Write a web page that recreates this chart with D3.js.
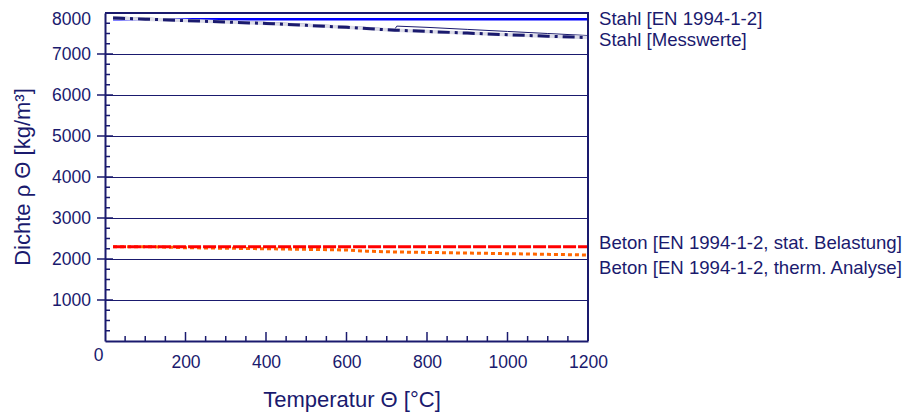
<!DOCTYPE html>
<html>
<head>
<meta charset="utf-8">
<script src="https://cdn.jsdelivr.net/npm/d3@7/dist/d3.min.js"></script>
<style>
  body { margin: 0; background: #fff; }
  svg { display: block; font-family: "Liberation Sans", Arial, sans-serif; }
</style>
</head>
<body>
<div id="chart"></div>
<script>
// 数据
const xTicks = [0, 200, 400, 600, 800, 1000, 1200]
const yTicks = [1000, 2000, 3000, 4000, 5000, 6000, 7000, 8000]

// Stahl [EN 1994-1-2]
const steelEnTemp = [20, 1200]
const steelEnRho = [7850, 7850]
// Stahl [Messwerte] (zwei Messreihen)
const steelMeasTemp = [20, 100, 200, 300, 400, 500, 600, 700, 720, 725, 800, 900, 1000, 1100, 1200]
const steelMeasRhoA = [7905, 7875, 7840, 7805, 7770, 7725, 7675, 7615, 7605, 7680, 7650, 7600, 7550, 7500, 7450]
const steelMeasRhoB = [7880, 7850, 7815, 7780, 7745, 7700, 7650, 7590, 7580, 7580, 7550, 7510, 7470, 7435, 7400]
// Beton [EN 1994-1-2, stat. Belastung]
const concStatTemp = [20, 1200]
const concStatRho = [2300, 2300]
// Beton [EN 1994-1-2, therm. Analyse]
const concThermTemp = [20, 115, 200, 400, 600, 650, 700, 800, 1000, 1200]
const concThermRho = [2300, 2300, 2275, 2250, 2220, 2190, 2175, 2160, 2130, 2098]

const config = {
  width: 909,
  height: 412,
  margin: { top: 13, right: 321, bottom: 71, left: 105 },
  navy: '#1a1a6e',
  textColor: '#1a1a6e'
}

const { width, height, margin, navy, textColor } = config
const innerW = width - margin.left - margin.right
const innerH = height - margin.top - margin.bottom

const svg = d3.select('#chart')
  .append('svg')
  .attr('width', width)
  .attr('height', height)

const g = svg.append('g')
  .attr('transform', `translate(${margin.left}, ${margin.top})`)

const x = d3.scaleLinear().domain([0, 1200]).range([0, innerW])
const y = d3.scaleLinear().domain([0, 8000]).range([innerH, 0])

// 网格线
g.append('g')
  .selectAll('line')
  .data(yTicks.slice(0, -1))
  .join('line')
  .attr('x1', 0)
  .attr('x2', innerW)
  .attr('y1', d => Math.round(y(d)) + 0.5)
  .attr('y2', d => Math.round(y(d)) + 0.5)
  .attr('stroke', navy)
  .attr('stroke-width', 1)

// 小刻度
const xMinor = d3.range(50, 1200, 50)
const yMinor = d3.range(250, 8000, 250)
g.append('g')
  .selectAll('line')
  .data(xMinor)
  .join('line')
  .attr('x1', d => x(d))
  .attr('x2', d => x(d))
  .attr('y1', innerH)
  .attr('y2', d => innerH - (d % 200 === 0 ? 9 : 5))
  .attr('stroke', navy)
  .attr('stroke-width', 1.5)
g.append('g')
  .selectAll('line')
  .data(yMinor)
  .join('line')
  .attr('x1', d => (d % 1000 === 0 ? -8 : 0))
  .attr('x2', d => (d % 1000 === 0 ? 8 : 5))
  .attr('y1', d => y(d))
  .attr('y2', d => y(d))
  .attr('stroke', navy)
  .attr('stroke-width', 1.5)

// 曲线
const line = d3.line()
  .x(d => x(d[0]))
  .y(d => y(d[1]))
const pairs = (t, v) => t.map((d, i) => [d, v[i]])

const curves = g.append('g')
curves.append('path')
  .attr('d', line(pairs(steelEnTemp, steelEnRho)))
  .attr('fill', 'none')
  .attr('stroke', '#0000ff')
  .attr('stroke-width', 2.5)
curves.append('path')
  .attr('d', line(pairs(steelMeasTemp, steelMeasRhoA)))
  .attr('fill', 'none')
  .attr('stroke', navy)
  .attr('stroke-width', 1)
curves.append('path')
  .attr('d', line(pairs(steelMeasTemp, steelMeasRhoB)))
  .attr('fill', 'none')
  .attr('stroke', '#dcdce8')
  .attr('stroke-width', 3.5)
curves.append('path')
  .attr('d', line(pairs(steelMeasTemp, steelMeasRhoB)))
  .attr('fill', 'none')
  .attr('stroke', navy)
  .attr('stroke-width', 3)
  .attr('stroke-dasharray', '12,5,3,5')
curves.append('path')
  .attr('d', line(pairs(concThermTemp, concThermRho)))
  .attr('fill', 'none')
  .attr('stroke', '#ff6600')
  .attr('stroke-width', 3)
  .attr('stroke-dasharray', '4,3')
curves.append('path')
  .attr('d', line(pairs(concStatTemp, concStatRho)))
  .attr('fill', 'none')
  .attr('stroke', '#ff0000')
  .attr('stroke-width', 3)
  .attr('stroke-dasharray', '13,2')

// 坐标轴
const xAxis = g.append('g')
  .attr('transform', `translate(0, ${innerH})`)
  .call(d3.axisBottom(x).tickValues(xTicks).tickSize(0).tickPadding(15).tickFormat(d3.format('d')))
const yAxis = g.append('g')
  .call(d3.axisLeft(y).tickValues(yTicks).tickSize(0).tickPadding(14).tickFormat(d3.format('d')))
;[xAxis, yAxis].forEach(a => {
  a.select('.domain').attr('stroke', navy).attr('stroke-width', 2)
  a.selectAll('text')
    .attr('fill', textColor)
    .style('font-size', '17.5px')
    .style('font-family', '"Liberation Sans", Arial, sans-serif')
})
// 角点"0"和顶部"8000"的位置微调
xAxis.selectAll('.tick').filter(d => d === 0).select('text')
  .attr('dx', -7).attr('y', 8)
yAxis.selectAll('.tick').filter(d => d === 8000).select('text')
  .attr('dy', '0.68em')

// 外框
g.append('path')
  .attr('d', `M0,0H${innerW}V${innerH}`)
  .attr('fill', 'none')
  .attr('stroke', navy)
  .attr('stroke-width', 2)

// 图例文字
const labels = [
  { text: 'Stahl [EN 1994-1-2]', y: 25 },
  { text: 'Stahl [Messwerte]', y: 46 },
  { text: 'Beton [EN 1994-1-2, stat. Belastung]', y: 249 },
  { text: 'Beton [EN 1994-1-2, therm. Analyse]', y: 274 }
]
svg.append('g')
  .selectAll('text')
  .data(labels)
  .join('text')
  .attr('x', 599)
  .attr('y', d => d.y)
  .attr('fill', textColor)
  .style('font-size', '18.6px')
  .text(d => d.text)

// 轴标题
svg.append('text')
  .attr('x', 352)
  .attr('y', 407)
  .attr('text-anchor', 'middle')
  .attr('fill', textColor)
  .style('font-size', '22px')
  .text('Temperatur Θ [°C]')
svg.append('text')
  .attr('transform', 'translate(30, 177) rotate(-90)')
  .attr('text-anchor', 'middle')
  .attr('fill', textColor)
  .style('font-size', '22px')
  .text('Dichte ρ Θ [kg/m³]')
</script>
</body>
</html>
